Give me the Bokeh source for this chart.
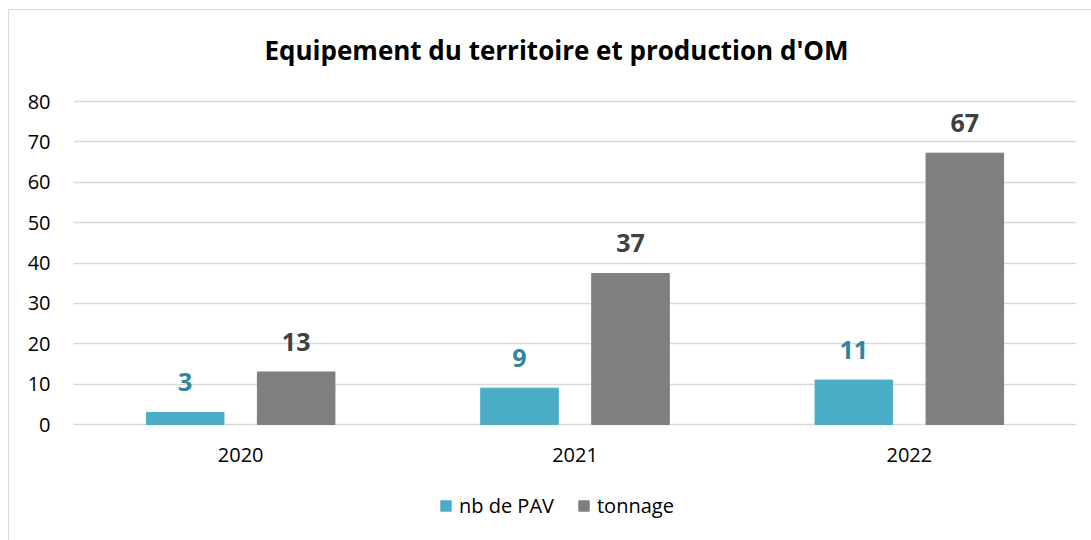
from bokeh.plotting import figure
from bokeh.models import FactorRange, Range1d, FixedTicker, Legend, LegendItem, Label
from bokeh.transform import dodge
from bokeh.core.properties import value
from bokeh.embed import file_html
from bokeh.resources import INLINE
from bokeh.models import ColumnDataSource

title = "Equipement du territoire et production d'OM"
years = ["2020", "2021", "2022"]
nb_pav = [3, 9, 11]
tonnage = [13, 37.4, 67.2]
y_ticks = [0, 10, 20, 30, 40, 50, 60, 70, 80]
series_names = ["nb de PAV", "tonnage"]

FONT = "Open Sans"
CYAN = "#4bacc6"
GRAY = "#7f7f7f"

src = ColumnDataSource(dict(
    year=years,
    pav=nb_pav,
    ton=tonnage,
    base=[0] * len(years),
    pav_lbl=[f"{v:.0f}" for v in nb_pav],
    ton_lbl=[f"{v:.0f}" for v in tonnage],
))

# plot frame spans the whole height; value axis 0..80 maps to px 424..101
PX_PER_UNIT = (424 - 101) / 80
y_lo = -(540 - 424) / PX_PER_UNIT
y_hi = 80 + 101 / PX_PER_UNIT

p = figure(
    width=1091, height=540,
    x_range=FactorRange(*years),
    y_range=Range1d(y_lo, y_hi),
    output_backend="svg", toolbar_location=None,
    min_border_left=73, min_border_right=15,
    min_border_top=0, min_border_bottom=0,
)
p.border_fill_color = None
p.background_fill_color = None
p.styles = {"background": "linear-gradient(#d9d9d9, #d9d9d9) 8px 9px / 1px 100% no-repeat, "
                          "linear-gradient(#d9d9d9, #d9d9d9) 8px 9px / 100% 1px no-repeat, #ffffff"}

p.outline_line_color = None
p.xgrid.grid_line_color = None
p.ygrid.grid_line_color = "#d9d9d9"
p.ygrid.grid_line_width = 1.3
p.yaxis.ticker = FixedTicker(ticks=y_ticks)
p.xaxis.visible = False

p.yaxis.axis_line_color = None
p.yaxis.major_tick_line_color = None
p.yaxis.minor_tick_line_color = None
p.yaxis.major_label_text_font = FONT
p.yaxis.major_label_text_font_size = "20px"
p.yaxis.major_label_text_color = "#000000"
p.yaxis.major_label_standoff = 17

# category labels under the baseline
p.text(x="year", y="base", text="year", source=src,
       text_font=value(FONT), text_font_size="20px", text_color="#000000",
       text_align="center", text_baseline="middle", y_offset=30)

r1 = p.vbar(x=dodge("year", -0.166, range=p.x_range), top="pav", width=0.232,
            source=src, fill_color=CYAN, line_color=CYAN)
r2 = p.vbar(x=dodge("year", 0.166, range=p.x_range), top="ton", width=0.232,
            source=src, fill_color=GRAY, line_color=GRAY)

p.text(x=dodge("year", -0.166, range=p.x_range), y="pav", text="pav_lbl", source=src,
       text_font=value(FONT), text_font_size="25px", text_font_style="bold",
       text_color="#31859c", text_align="center", text_baseline="middle", y_offset=-30)
p.text(x=dodge("year", 0.166, range=p.x_range), y="ton", text="ton_lbl", source=src,
       text_font=value(FONT), text_font_size="25px", text_font_style="bold",
       text_color="#404040", text_align="center", text_baseline="middle", y_offset=-30)

p.add_layout(Label(x=483, y=491, x_units="screen", y_units="screen", text=title,
                   text_font=FONT, text_font_size="26px", text_font_style="bold",
                   text_color="#000000", text_align="center", text_baseline="middle"))

legend = Legend(items=[LegendItem(label=series_names[0], renderers=[r1]),
                       LegendItem(label=series_names[1], renderers=[r2])],
                orientation="horizontal", location=(366, 21),
                label_text_font=FONT, label_text_font_size="20px",
                label_text_color="#000000",
                glyph_width=13, glyph_height=13, label_standoff=7, spacing=23,
                border_line_color=None, background_fill_alpha=0, padding=8, margin=0)
p.add_layout(legend)

open("out.html", "w").write(file_html(p, INLINE))
